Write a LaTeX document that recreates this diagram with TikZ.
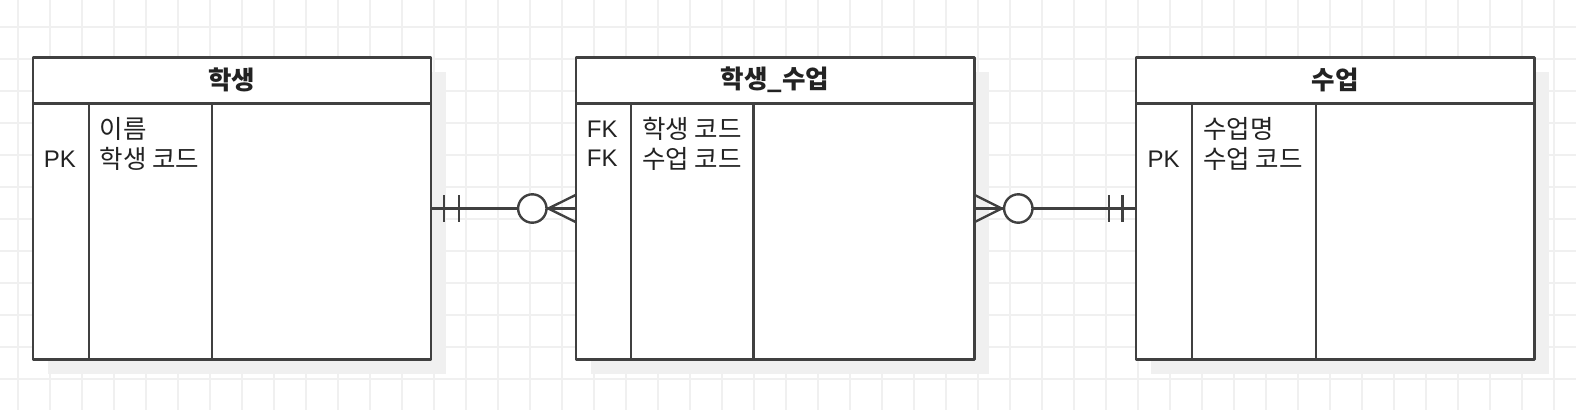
\documentclass[tikz,border=0pt]{standalone}
\usepackage{fontspec}
\setmainfont{Liberation Sans}
\newfontfamily\kr{Noto Sans CJK KR}
\definecolor{ln}{HTML}{404040}
\definecolor{gridc}{HTML}{F0F0F0}
\definecolor{shadowc}{HTML}{F0F0F0}
\definecolor{txt}{HTML}{222222}
\tikzset{
  tbl/.style={draw=ln, line width=2.4pt, fill=white, anchor=north west, minimum width=398.3pt, minimum height=302pt, inner sep=0pt, outer sep=0pt},
  sep/.style={draw=ln, line width=2.4pt},
  conn/.style={draw=ln, line width=2.4pt},
  hdr/.style={inner sep=0pt, text=txt, font=\fontsize{25.5}{30}\selectfont\kr\bfseries},
  lbl/.style={anchor=west, inner sep=0pt, text=txt, font=\fontsize{25.5}{30}\selectfont\kr},
  key/.style={anchor=west, inner sep=0pt, text=txt, font=\fontsize{24}{28}\selectfont},
  ring/.style={draw=ln, line width=2.4pt, fill=white, circle, minimum size=28.4pt, inner sep=0pt}
}
\begin{document}
\begin{tikzpicture}[x=1pt,y=-1pt, line join=round]
\useasboundingbox (0,0) rectangle (1576,410);
% grid
\foreach \gx in {18,50,...,1576} \draw[gridc, line width=1.5pt] (\gx,0) -- (\gx,410);
\foreach \gy in {27,59,...,410} \draw[gridc, line width=1.5pt] (0,\gy) -- (1576,\gy);
% shadows
\fill[shadowc] (47.7,72) rectangle ++(398.3,302);
\fill[shadowc] (591,72) rectangle ++(398.3,302);
\fill[shadowc] (1151,72) rectangle ++(398.3,302);
% tables
\node[tbl] (t1) at (32.7,57.5) {};
\node[tbl] (t2) at (576,57.5) {};
\node[tbl] (t3) at (1136,57.5) {};
% header lines and column dividers
\draw[sep] (32.7,103.3) -- (431,103.3);
\draw[sep] (89,103.3) -- (89,359.5);
\draw[sep] (211.7,103.3) -- (211.7,359.5);
\draw[sep] (576,103.3) -- (974.3,103.3);
\draw[sep] (631,103.3) -- (631,359.5);
\draw[sep] (753.3,103.3) -- (753.3,359.5);
\draw[sep] (1136,103.3) -- (1534.3,103.3);
\draw[sep] (1191.7,103.3) -- (1191.7,359.5);
\draw[sep] (1316,103.3) -- (1316,359.5);
% headers
\node[hdr] (h1) at (231.8,79.5) {학생};
\node[hdr] (h2) at (775.2,79.5) {학생\_수업};
\node[hdr] (h3) at (1335.2,79.5) {수업};
% table 1 body
\node[key] (k1) at (43.7,159) {PK};
\node[lbl] (a1) at (99.5,129) {이름};
\node[lbl] (a2) at (99.5,158.5) {학생 코드};
% table 2 body
\node[key] (k2) at (586.7,129) {FK};
\node[key] (k3) at (586.7,158.5) {FK};
\node[lbl] (b1) at (642,129) {학생 코드};
\node[lbl] (b2) at (642,158.5) {수업 코드};
% table 3 body
\node[key] (k4) at (1147.5,159) {PK};
\node[lbl] (c1) at (1203,129) {수업명};
\node[lbl] (c2) at (1203,158.5) {수업 코드};
% connector left: one-and-only-one to zero-or-many
\draw[conn] (t1.east) -- (t2.west);
\draw[conn] ([xshift=13pt,yshift=13.3pt]t1.east) -- ([xshift=13pt,yshift=-13.3pt]t1.east);
\draw[conn] ([xshift=28pt,yshift=13.3pt]t1.east) -- ([xshift=28pt,yshift=-13.3pt]t1.east);
\coordinate (ap1) at ([xshift=-27.7pt]t2.west);
\draw[conn] ([yshift=13.7pt]t2.west) -- (ap1) -- ([yshift=-13.7pt]t2.west);
\node[ring] (r1) at ([xshift=-43.7pt]t2.west) {};
% connector right: zero-or-many to one-and-only-one
\draw[conn] (t2.east) -- (t3.west);
\draw[conn] ([xshift=-13.5pt,yshift=13.3pt]t3.west) -- ([xshift=-13.5pt,yshift=-13.3pt]t3.west);
\draw[conn] ([xshift=-27pt,yshift=13.3pt]t3.west) -- ([xshift=-27pt,yshift=-13.3pt]t3.west);
\coordinate (ap2) at ([xshift=27.5pt]t2.east);
\draw[conn] ([yshift=13.7pt]t2.east) -- (ap2) -- ([yshift=-13.7pt]t2.east);
\node[ring] (r2) at ([xshift=44pt]t2.east) {};
\end{tikzpicture}
\end{document}
